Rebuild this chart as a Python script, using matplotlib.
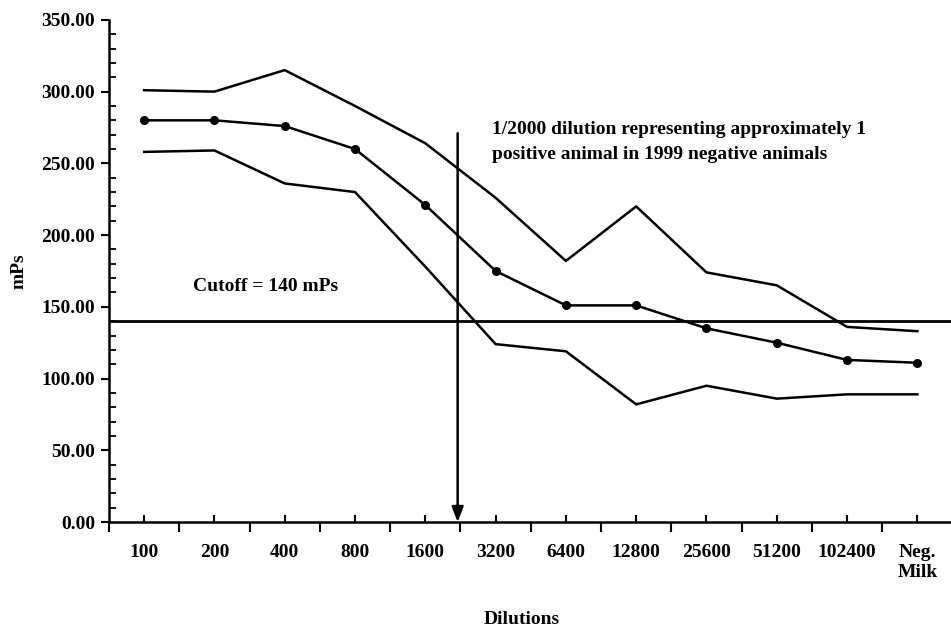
import matplotlib
matplotlib.use("Agg")
import matplotlib.pyplot as plt
import numpy as np

# dados
dilutions = ['100', '200', '400', '800', '1600', '3200', '6400', '12800',
             '25600', '51200', '102400', 'Neg.\nMilk']
mean_mps = [280, 280, 276, 260, 221, 175, 151, 151, 135, 125, 113, 111]
upper_mps = [301, 300, 315, 290, 264, 226, 182, 220, 174, 165, 136, 133]
lower_mps = [258, 259, 236, 230, 178, 124, 119, 82, 95, 86, 89, 89]
cutoff = 140
arrow_pos = 4.46      # ~1/2000 dilution, between 1600 and 3200
arrow_top = 271

plt.rcParams['font.family'] = ['Liberation Serif', 'DejaVu Serif']
plt.rcParams['font.weight'] = 'bold'
fs = 14

fig = plt.figure(figsize=(9.51, 6.3), dpi=100)
ax = fig.add_axes([0.1146, 0.1714, 0.887, 0.797])

x = np.arange(len(dilutions))
ax.plot(x, upper_mps, color='black', lw=1.8)
ax.plot(x, lower_mps, color='black', lw=1.8)
ax.plot(x, mean_mps, color='black', lw=1.8, marker='o', markersize=5.5)

# linha de cutoff
ax.axhline(cutoff, color='black', lw=2.0)
ax.text(0.7, 164, 'Cutoff = 140 mPs', fontsize=fs, fontweight='bold',
        va='center', ha='left')

# seta da diluição 1/2000
ax.annotate('', xy=(arrow_pos, 0), xytext=(arrow_pos, arrow_top),
            arrowprops=dict(arrowstyle='-|>,head_length=0.9,head_width=0.35',
                            color='black', lw=1.8, shrinkA=0, shrinkB=0))
ax.text(4.95, 265, '1/2000 dilution representing approximately 1\n'
        'positive animal in 1999 negative animals',
        fontsize=fs, fontweight='bold', va='center', ha='left',
        linespacing=1.65)

ax.set_xlim(-0.5, len(dilutions) - 0.5)
ax.set_ylim(0, 350)

# eixo x: ticks grandes nas fronteiras, pequenos no centro
ax.set_xticks(np.arange(len(dilutions) + 1) - 0.5)
ax.set_xticklabels([])
ax.set_xticks(x, minor=True)
ax.set_xticklabels(dilutions, minor=True, fontsize=fs, fontweight='bold')
ax.tick_params(axis='x', which='major', direction='out', length=7, width=1.5)
ax.tick_params(axis='x', which='minor', direction='in', length=5, width=1.5,
               pad=16)

ax.set_yticks(np.arange(0, 351, 50))
ax.set_yticklabels([f"{v:.2f}" for v in np.arange(0, 351, 50)],
                   fontsize=fs, fontweight='bold')
ax.set_yticks(np.arange(0, 351, 10), minor=True)
ax.tick_params(axis='y', which='major', direction='out', length=6, width=1.5,
               pad=4)
ax.tick_params(axis='y', which='minor', direction='in', length=5, width=1.3)

ax.spines['top'].set_visible(False)
ax.spines['right'].set_visible(False)
ax.spines['left'].set_linewidth(1.8)
ax.spines['bottom'].set_linewidth(1.8)

ax.set_ylabel('mPs', fontsize=fs, fontweight='bold', labelpad=10)
fig.text(522 / 951, 1 - 620 / 630, 'Dilutions', fontsize=fs,
         fontweight='bold', ha='center', va='center')

fig.savefig('out.png', dpi=100)
